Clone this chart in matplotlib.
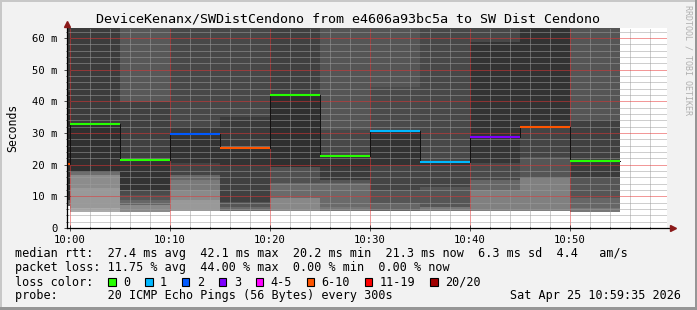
import matplotlib

matplotlib.use("Agg")
import matplotlib.pyplot as plt
from matplotlib.patches import Rectangle
from matplotlib.ticker import MultipleLocator

plt.rcParams["lines.scale_dashes"] = False

W, H = 697, 310
MONO = "DejaVu Sans Mono"

# one entry per 5 minute step, minutes after 10:00
interval_start = [-5, 0, 5, 10, 15, 20, 25, 30, 35, 40, 45, 50]
median_ms = [20.2, 32.8, 21.5, 29.8, 25.4, 42.1, 22.7, 30.8, 21.0, 28.8, 32.0, 21.3]
loss_index = [5, 0, 0, 2, 5, 0, 0, 1, 1, 3, 5, 0]

# smoke: lowest ping, then the tops of the grey bands (ms) and their grey level
smoke_bottom = [6.9, 5.2, 5.2, 5.5, 5.5, 5.5, 5.5, 5.5, 5.5, 5.5, 5.5, 5.2]
smoke_tops = [
    [9.0, 20.2, 43.0, 70],
    [6.3, 12.5, 16.7, 17.8, 32.8, 70],
    [7.3, 8.9, 10.4, 12.0, 21.5, 39.9, 70],
    [8.9, 12.0, 15.2, 16.7, 20.4, 29.8, 32.0, 70],
    [6.7, 8.3, 19.9, 25.4, 35.2, 70],
    [9.4, 14.1, 19.4, 42.1, 70],
    [6.7, 14.1, 15.2, 19.4, 22.7, 31.0, 70],
    [7.8, 12.0, 19.9, 30.8, 44.6, 70],
    [6.7, 13.1, 19.9, 21.0, 70],
    [12.0, 15.2, 20.4, 28.8, 58.8, 70],
    [15.7, 22.5, 32.0, 70],
    [6.2, 9.4, 16.2, 21.3, 34.1, 70],
]
smoke_greys = [
    [0x66, 0x2E, 0x2A, 0x3C],
    [0xAA, 0x99, 0x8C, 0x6E, 0x30, 0x3C],
    [0x8A, 0x66, 0x55, 0x4A, 0x33, 0x40, 0x58],
    [0x99, 0x8A, 0x7A, 0x66, 0x44, 0x33, 0x3A, 0x48],
    [0x6A, 0x55, 0x40, 0x33, 0x3A, 0x48],
    [0x88, 0x6A, 0x50, 0x2F, 0x40],
    [0x77, 0x6A, 0x55, 0x3A, 0x33, 0x48, 0x55],
    [0x66, 0x55, 0x44, 0x33, 0x4A, 0x55],
    [0x77, 0x55, 0x44, 0x33, 0x48],
    [0x80, 0x66, 0x4A, 0x35, 0x33, 0x48],
    [0x80, 0x55, 0x44, 0x33],
    [0x77, 0x66, 0x55, 0x3A, 0x40, 0x55],
]

loss_labels = ["0", "1", "2", "3", "4-5", "6-10", "11-19", "20/20"]
loss_colors = ["#26ff00", "#00b8ff", "#0059ff", "#7e00ff", "#ff00ff", "#ff5500", "#ff0000", "#a10000"]

x_ticks = [0, 10, 20, 30, 40, 50]
x_tick_labels = ["10:00", "10:10", "10:20", "10:30", "10:40", "10:50"]
y_ticks = [0, 10, 20, 30, 40, 50, 60]
y_tick_labels = ["0", "10 m", "20 m", "30 m", "40 m", "50 m", "60 m"]

title = "DeviceKenanx/SWDistCendono from e4606a93bc5a to SW Dist Cendono"
rtt_line = "median rtt:  27.4 ms avg  42.1 ms max  20.2 ms min  21.3 ms now  6.3 ms sd  4.4   am/s"
loss_line = "packet loss: 11.75 % avg  44.00 % max  0.00 % min  0.00 % now"
probe_line = "probe:       20 ICMP Echo Pings (56 Bytes) every 300s"
stamp = "Sat Apr 25 10:59:35 2026"
step = 5


def fx(x):
    return x / W


def fy(y):
    return 1 - y / H


fig = plt.figure(figsize=(W / 100, H / 100), dpi=100, facecolor="#f2f2f2")

# rrdtool style frame
fig.add_artist(Rectangle((0, fy(2)), 1, 2 / H, transform=fig.transFigure, color="#c8c8c8", lw=0))
fig.add_artist(Rectangle((0, 0), 2 / W, 1, transform=fig.transFigure, color="#c8c8c8", lw=0))
fig.add_artist(Rectangle((0, 0), 1, 3 / H, transform=fig.transFigure, color="#969696", lw=0))
fig.add_artist(Rectangle((fx(W - 2), 0), 2 / W, 1, transform=fig.transFigure, color="#969696", lw=0))

ax = fig.add_axes([fx(67), fy(228), 600 / W, 200 / H])
ax.set_facecolor("white")
ax.set_xlim(-0.3, 59.7)
ax.set_ylim(0, 63.2)

for start, bottom, tops, greys in zip(interval_start, smoke_bottom, smoke_tops, smoke_greys):
    lows = [bottom] + tops[:-1]
    for lo, hi, g in zip(lows, tops, greys):
        ax.bar(start, hi - lo, bottom=lo, width=step, align="edge",
               color=(g / 255, g / 255, g / 255), linewidth=0, zorder=1)

# median: thin dark connectors, coloured level per loss
ax.plot(interval_start + [interval_start[-1] + step], median_ms + [median_ms[-1]],
        drawstyle="steps-post", color="#111111", lw=0.7, zorder=3)
for start, med, li in zip(interval_start, median_ms, loss_index):
    ax.hlines(med, start, start + step, colors=loss_colors[li], lw=1.5, zorder=4)

ax.set_xticks(x_ticks, x_tick_labels)
ax.set_yticks(y_ticks, y_tick_labels)
ax.xaxis.set_minor_locator(MultipleLocator(2))
ax.yaxis.set_minor_locator(MultipleLocator(2))
ax.set_axisbelow(False)
dots = (0, (0.72, 0.72))
ax.grid(which="minor", color=(0.62, 0.62, 0.62, 0.45), lw=0.72, linestyle=dots)
ax.grid(which="major", color=(0.9, 0.2, 0.2, 0.4), lw=0.72, linestyle=dots)
ax.tick_params(which="both", direction="inout", color="#333333", width=0.6)
ax.tick_params(which="major", length=4)
ax.tick_params(which="minor", length=2)
ax.tick_params(axis="x", pad=3)
ax.tick_params(axis="y", pad=5)
for lab in ax.get_xticklabels() + ax.get_yticklabels():
    lab.set_fontfamily(MONO)
    lab.set_fontsize(7.6)

for s in ax.spines.values():
    s.set_visible(False)
ax.plot([-0.3, 60.2], [0, 0], color="black", lw=0.9, clip_on=False, zorder=5)
ax.plot([-0.3, -0.3], [0, 64.5], color="black", lw=0.9, clip_on=False, zorder=5)
ax.plot([60.3], [0], marker=">", color="#8b1a1a", markersize=5, clip_on=False, zorder=6)
ax.plot([-0.3], [64.6], marker="^", color="#8b1a1a", markersize=5, clip_on=False, zorder=6)

ax.set_ylabel("Seconds", fontfamily=MONO, fontsize=8.3, labelpad=9)

fig.text(fx(348), fy(19), title, ha="center", va="center", fontfamily=MONO, fontsize=9.6)
fig.text(fx(688), fy(60), "RRDTOOL / TOBI OETIKER", ha="center", va="center", rotation=270,
         fontfamily=MONO, fontsize=6.0, color="#b0b0b0")

fig.text(fx(15.3), fy(254), rtt_line, ha="left", va="center", fontfamily=MONO, fontsize=8.5)
fig.text(fx(15.3), fy(268), loss_line, ha="left", va="center", fontfamily=MONO, fontsize=8.5)
fig.text(fx(15.3), fy(282), "loss color:", ha="left", va="center", fontfamily=MONO, fontsize=8.5)
fig.text(fx(15.3), fy(296), probe_line, ha="left", va="center", fontfamily=MONO, fontsize=8.5)
fig.text(fx(681), fy(296), stamp, ha="right", va="center", fontfamily=MONO, fontsize=8.5)

char_w = 7.13
box_x = 108.3
for lab, col in zip(loss_labels, loss_colors):
    fig.add_artist(Rectangle((fx(box_x), fy(285.7)), 7.5 / W, 8 / H, transform=fig.transFigure,
                             facecolor=col, edgecolor="black", lw=0.8))
    fig.text(fx(box_x + 15), fy(282), lab, ha="left", va="center", fontfamily=MONO, fontsize=8.5)
    box_x += 15 + len(lab) * char_w + 14.7

fig.savefig("out.png", dpi=100, facecolor=fig.get_facecolor())
